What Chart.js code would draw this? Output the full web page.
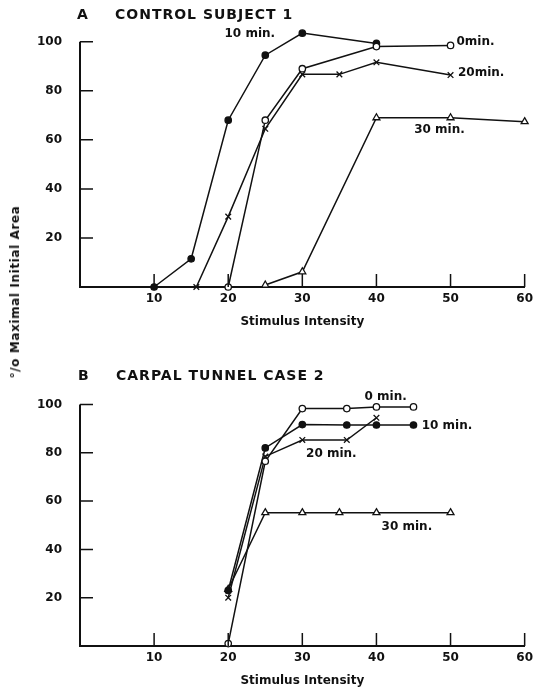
<!DOCTYPE html>
<html>
<head>
<meta charset="utf-8">
<script src="https://cdn.jsdelivr.net/npm/chart.js@4.4.1/dist/chart.umd.min.js"></script>
<style>
  body { margin: 0; background: #fff; }
  #wrap { position: relative; width: 538px; height: 690px; font-family: 'DejaVu Sans', sans-serif; font-weight: bold; color: #111; }
  canvas { position: absolute; left: 0; }
  .ptitle { position: absolute; font-size: 14px; line-height: 14px; letter-spacing: 1px; white-space: nowrap; }
  #ytitle { position: absolute; left: 15px; top: 292px; transform: translate(-50%, -50%) rotate(-90deg); font-size: 12px; white-space: nowrap; letter-spacing: 0.6px; }
</style>
</head>
<body>
<div id="wrap">
  <canvas id="chartA" width="538" height="345" style="top:0"></canvas>
  <canvas id="chartB" width="538" height="345" style="top:345px"></canvas>
  <div class="ptitle" style="left:77px;top:7px">A</div>
  <div class="ptitle" style="left:115px;top:7px">CONTROL SUBJECT 1</div>
  <div class="ptitle" style="left:78px;top:368px">B</div>
  <div class="ptitle" style="left:116px;top:368px">CARPAL TUNNEL CASE 2</div>
  <div id="ytitle">°/o Maximal Initial Area</div>
</div>
<script>
// panel A - control subject 1
const intensityA0 = [20, 25, 30, 40, 50];
const areaA0 = [0, 68, 89, 98, 98.5];
const intensityA10 = [10, 15, 20, 25, 30, 40];
const areaA10 = [0, 11.5, 68, 94.5, 103.5, 99.3];
const intensityA20 = [15.7, 20, 25, 30, 35, 40, 50];
const areaA20 = [0, 28.7, 64.5, 86.7, 86.7, 91.6, 86.4];
const intensityA30 = [25, 30, 40, 50, 60];
const areaA30 = [0.8, 6.2, 69, 69, 67.4];

// panel B - carpal tunnel case 2
const intensityB0 = [20, 25, 30, 36, 40, 45];
const areaB0 = [1, 76.5, 98.3, 98.3, 99, 99];
const intensityB10 = [20, 25, 30, 36, 40, 45];
const areaB10 = [23, 82, 91.7, 91.5, 91.5, 91.5];
const intensityB20 = [20, 25, 30, 36, 40];
const areaB20 = [20, 78.5, 85.3, 85.3, 94.5];
const intensityB30 = [20, 25, 30, 35, 40, 50];
const areaB30 = [23.5, 55.2, 55.2, 55.2, 55.2, 55.2];

const xTicks = [0, 10, 20, 30, 40, 50, 60];
const yTicks = [0, 20, 40, 60, 80, 100];

const labelsA = [
  { text: '10 min.', x: 19.5, y: 103 },
  { text: '0min.', x: 50.8, y: 100 },
  { text: '20min.', x: 51, y: 87.3 },
  { text: '30 min.', x: 45.1, y: 64 }
];
const labelsB = [
  { text: '0 min.', x: 38.4, y: 103 },
  { text: '10 min.', x: 46.1, y: 91 },
  { text: '20 min.', x: 30.5, y: 79.4 },
  { text: '30 min.', x: 40.7, y: 49.4 }
];

const ink = '#111';
const tickFont = { family: 'DejaVu Sans', size: 12, weight: 'bold' };

function pts(xs, ys) {
  return xs.map((x, i) => ({ x: x, y: ys[i] }));
}

function series(xs, ys, style, fill) {
  return {
    data: pts(xs, ys),
    borderColor: ink,
    borderWidth: 1.5,
    pointStyle: style,
    pointRadius: style === 'circle' ? 3.2 : 4,
    pointBorderWidth: 1.3,
    pointBackgroundColor: fill,
    pointBorderColor: ink,
    clip: false,
    tension: 0
  };
}

// y axis line (0..100 only), inward ticks, curve labels
const extras = {
  id: 'extras',
  afterDraw(chart, args, opts) {
    const ctx = chart.ctx;
    const x = chart.scales.x, y = chart.scales.y;
    const area = chart.chartArea;
    ctx.save();
    ctx.strokeStyle = ink;
    ctx.lineWidth = 2;
    ctx.beginPath();
    ctx.moveTo(area.left, y.getPixelForValue(0));
    ctx.lineTo(area.left, y.getPixelForValue(100));
    ctx.stroke();
    ctx.lineWidth = 1.5;
    ctx.beginPath();
    xTicks.slice(1).forEach(v => {
      const px = x.getPixelForValue(v);
      ctx.moveTo(px, area.bottom);
      ctx.lineTo(px, area.bottom - 13);
    });
    yTicks.slice(1).forEach(v => {
      const py = y.getPixelForValue(v);
      ctx.moveTo(area.left, py);
      ctx.lineTo(area.left + 13, py);
    });
    ctx.stroke();
    ctx.font = 'bold 12px "DejaVu Sans"';
    ctx.fillStyle = ink;
    ctx.textBaseline = 'middle';
    opts.items.forEach(it => {
      ctx.fillText(it.text, x.getPixelForValue(it.x), y.getPixelForValue(it.y));
    });
    ctx.restore();
  }
};

function makeChart(id, datasets, items, topPad, xHeight, titlePad) {
  return new Chart(document.getElementById(id), {
    type: 'line',
    data: { datasets: datasets },
    options: {
      responsive: false,
      devicePixelRatio: 1,
      animation: false,
      layout: { padding: { top: topPad, right: 13, left: 0, bottom: 0 } },
      plugins: {
        legend: { display: false },
        tooltip: { enabled: false },
        extras: { items: items }
      },
      scales: {
        x: {
          type: 'linear',
          min: 0,
          max: 60,
          afterFit: s => { s.height = xHeight; },
          afterBuildTicks: s => { s.ticks = xTicks.map(v => ({ value: v })); },
          grid: { display: false, drawTicks: false },
          border: { display: true, color: ink, width: 2 },
          ticks: {
            padding: 5,
            color: ink,
            font: tickFont,
            callback: v => (v === 0 ? '' : v)
          },
          title: {
            display: true,
            text: 'Stimulus Intensity',
            color: ink,
            font: tickFont,
            padding: { top: 0, bottom: titlePad }
          }
        },
        y: {
          min: 0,
          max: 106,
          afterFit: s => { s.width = 80; },
          afterBuildTicks: s => { s.ticks = yTicks.map(v => ({ value: v })); },
          grid: { display: false, drawTicks: false },
          border: { display: false },
          ticks: {
            padding: 18,
            color: ink,
            font: tickFont,
            callback: v => (v === 0 ? '' : v)
          }
        }
      }
    },
    plugins: [extras]
  });
}

makeChart('chartA', [
  series(intensityA0, areaA0, 'circle', '#fff'),
  series(intensityA10, areaA10, 'circle', ink),
  series(intensityA20, areaA20, 'crossRot', ink),
  series(intensityA30, areaA30, 'triangle', '#fff')
], labelsA, 27, 58, 16);

makeChart('chartB', [
  series(intensityB0, areaB0, 'circle', '#fff'),
  series(intensityB10, areaB10, 'circle', ink),
  series(intensityB20, areaB20, 'crossRot', ink),
  series(intensityB30, areaB30, 'triangle', '#fff')
], labelsB, 45, 44, 2);
</script>
</body>
</html>
